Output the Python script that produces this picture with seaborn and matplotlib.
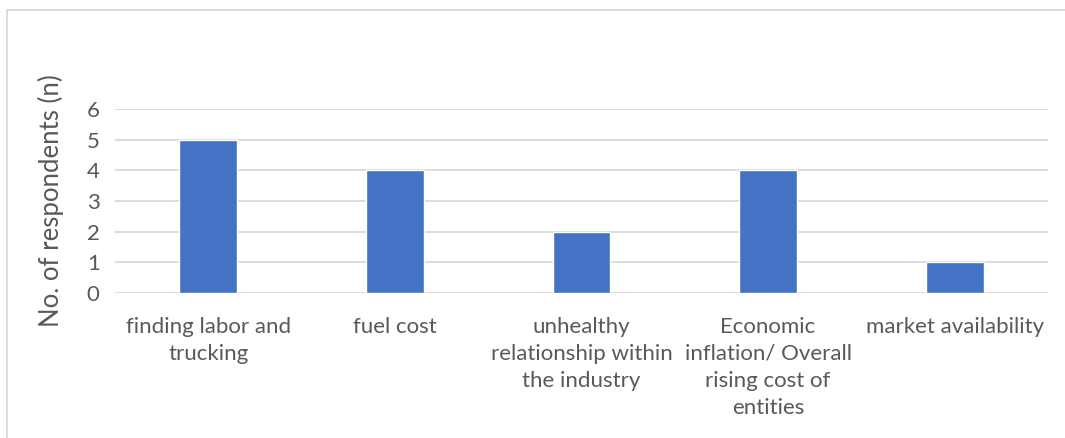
import matplotlib
matplotlib.use("Agg")
import matplotlib.pyplot as plt
from matplotlib.lines import Line2D
import seaborn as sns
import pandas as pd

categories = [
    "finding labor and\ntrucking",
    "fuel cost",
    "unhealthy\nrelationship within\nthe industry",
    "Economic\ninflation/ Overall\nrising cost of\nentities",
    "market availability",
]
respondents = [5, 4, 2, 4, 1]
y_ticks = [0, 1, 2, 3, 4, 5, 6]

df = pd.DataFrame({"category": categories, "respondents": respondents})

sns.set_theme(style="white")
plt.rcParams["font.family"] = ["Lato", "DejaVu Sans"]

W, H = 1065, 438
fig = plt.figure(figsize=(W / 100, H / 100), dpi=100)
ax = fig.add_axes([115 / W, 1 - 293 / H, (1048 - 115) / W, (293 - 109) / H])

sns.barplot(data=df, x="category", y="respondents", color="#4472C4",
            width=0.31, saturation=1, ax=ax, zorder=3)

ax.set_ylim(0, 6)
ax.set_xlim(-0.5, len(categories) - 0.5)
ax.set_yticks(y_ticks)
ax.yaxis.grid(True, color="#D9D9D9", linewidth=1.3, zorder=0)
ax.xaxis.grid(False)
for s in ax.spines.values():
    s.set_visible(False)

ax.tick_params(axis="both", length=0, colors="#595959", labelsize=16)
ax.tick_params(axis="y", pad=11)
ax.tick_params(axis="x", pad=17)
for lbl in ax.get_xticklabels():
    lbl.set_linespacing(1.45)
    lbl.set_verticalalignment("top")
ax.set_xlabel("")
ax.set_ylabel("No. of respondents (n)", fontsize=18.5, color="#595959", labelpad=16)

# chart frame (top and left edges)
frame_color = "#D9D9D9"
fig.add_artist(Line2D([7 / W, 1], [1 - 10 / H, 1 - 10 / H], color=frame_color,
                      linewidth=1.3, transform=fig.transFigure))
fig.add_artist(Line2D([7 / W, 7 / W], [0, 1 - 10 / H], color=frame_color,
                      linewidth=1.3, transform=fig.transFigure))

fig.savefig("out.png", dpi=100, facecolor="white")
